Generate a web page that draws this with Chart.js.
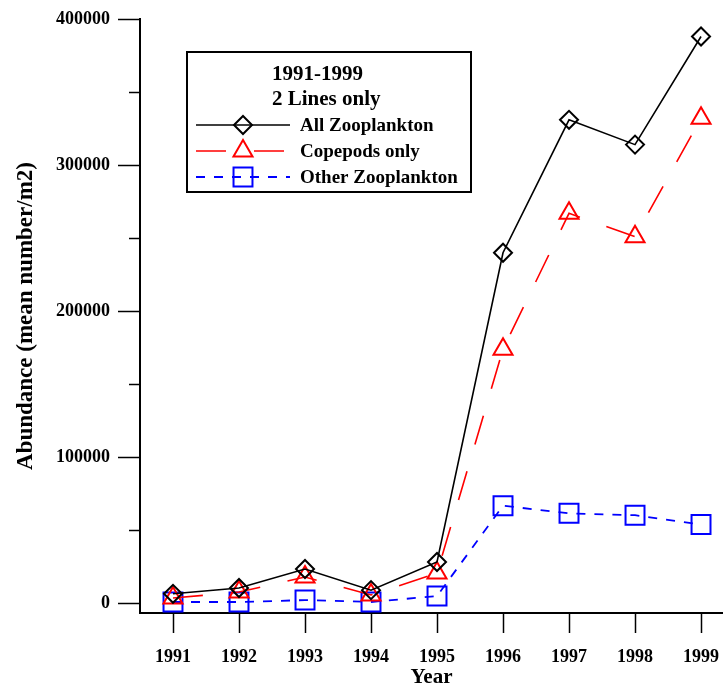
<!DOCTYPE html>
<html><head><meta charset="utf-8">
<script src="https://cdn.jsdelivr.net/npm/chart.js@4/dist/chart.umd.min.js"></script>
<style>html,body{margin:0;padding:0;background:#fff}#wrap{width:723px;height:690px;position:relative}</style>
</head><body><div id="wrap"><canvas id="c" width="723" height="690"></canvas></div>
<script>
const years = [1991, 1992, 1993, 1994, 1995, 1996, 1997, 1998, 1999];
const allZoo = [6500, 10500, 23500, 9000, 28300, 240000, 331000, 314000, 388000];
const copepods = [3600, 7700, 18000, 5700, 20700, 174000, 267000, 251000, 332000];
const otherZoo = [900, 900, 2200, 900, 5000, 66800, 61600, 60300, 54000];
const seriesLabels = ['All Zooplankton', 'Copepods only', 'Other Zooplankton'];
const legendTitle = ['1991-1999', '2 Lines only'];
const yTickValues = [0, 50000, 100000, 150000, 200000, 250000, 300000, 350000, 400000];
const yLabelValues = [0, 100000, 200000, 300000, 400000];
const xTitle = 'Year';
const yTitle = 'Abundance (mean number/m2)';

const FONT = '"Liberation Serif", "Times New Roman", serif';

function pts(vals) { return years.map((y, i) => ({ x: y, y: vals[i] })); }

function drawMarker(ctx, style, x, y, r) {
  ctx.beginPath();
  if (style === 'rectRot') {
    ctx.moveTo(x - r, y); ctx.lineTo(x, y - r); ctx.lineTo(x + r, y); ctx.lineTo(x, y + r); ctx.closePath();
  } else if (style === 'triangle') {
    for (let k = 0; k < 3; k++) {
      const a = k * 2 * Math.PI / 3;
      const px = x + Math.sin(a) * r, py = y - Math.cos(a) * r;
      if (k === 0) ctx.moveTo(px, py); else ctx.lineTo(px, py);
    }
    ctx.closePath();
  } else {
    const s = Math.SQRT1_2 * r;
    ctx.rect(x - s, y - s, 2 * s, 2 * s);
  }
  ctx.stroke();
}

const legendPlugin = {
  id: 'boxLegend',
  afterDraw(chart) {
    const ctx = chart.ctx;
    ctx.save();
    ctx.strokeStyle = '#000'; ctx.lineWidth = 2; ctx.setLineDash([]);
    ctx.strokeRect(187, 52, 284, 140);
    ctx.fillStyle = '#000';
    ctx.textBaseline = 'middle'; ctx.textAlign = 'left';
    ctx.font = 'bold 21px ' + FONT;
    ctx.fillText(legendTitle[0], 272, 75);
    ctx.fillText(legendTitle[1], 272, 100);
    ctx.font = 'bold 19px ' + FONT;
    const rows = [125, 151, 177];
    chart.data.datasets.forEach((ds, i) => {
      const y = rows[i];
      ctx.strokeStyle = ds.borderColor; ctx.lineWidth = ds.borderWidth;
      ctx.setLineDash(ds.borderDash || []);
      ctx.beginPath(); ctx.moveTo(196, y); ctx.lineTo(290, y); ctx.stroke();
      ctx.setLineDash([]);
      ctx.lineWidth = ds.pointBorderWidth;
      drawMarker(ctx, ds.pointStyle, 243, y, ds.pointRadius);
      ctx.fillStyle = '#000';
      ctx.fillText(ds.label, 300, y + 1);
    });
    // minor ticks on y axis
    const ys = chart.scales.y;
    ctx.strokeStyle = '#000'; ctx.lineWidth = 1.5;
    yTickValues.forEach(v => {
      if (yLabelValues.includes(v)) return;
      const py = Math.round(ys.getPixelForValue(v)) + 0.5;
      ctx.beginPath(); ctx.moveTo(ys.right - 11, py); ctx.lineTo(ys.right, py); ctx.stroke();
    });
    ctx.restore();
  }
};

new Chart(document.getElementById('c'), {
  type: 'line',
  data: {
    datasets: [
      { label: seriesLabels[0], data: pts(allZoo), borderColor: '#000', borderWidth: 1.6,
        pointStyle: 'rectRot', pointRadius: 9, pointBorderWidth: 2, pointBorderColor: '#000',
        pointBackgroundColor: 'rgba(0,0,0,0)', backgroundColor: 'rgba(0,0,0,0)', tension: 0, clip: false },
      { label: seriesLabels[1], data: pts(copepods), borderColor: '#ff0000', borderWidth: 1.6, borderDash: [30, 28],
        pointStyle: 'triangle', pointRadius: 11, pointBorderWidth: 2, pointBorderColor: '#ff0000',
        pointBackgroundColor: 'rgba(0,0,0,0)', backgroundColor: 'rgba(0,0,0,0)', tension: 0, clip: false },
      { label: seriesLabels[2], data: pts(otherZoo), borderColor: '#0000ff', borderWidth: 1.8, borderDash: [9, 9],
        pointStyle: 'rect', pointRadius: 13.4, pointBorderWidth: 2, pointBorderColor: '#0000ff',
        pointBackgroundColor: 'rgba(0,0,0,0)', backgroundColor: 'rgba(0,0,0,0)', tension: 0, clip: false }
    ]
  },
  options: {
    responsive: false, animation: false, devicePixelRatio: 1,
    layout: { autoPadding: false, padding: { top: 19, right: 0, left: 0, bottom: 0 } },
    plugins: { legend: { display: false }, tooltip: { enabled: false } },
    scales: {
      x: {
        type: 'linear', min: 1990.5, max: 1999.333,
        afterBuildTicks: s => { s.ticks = years.map(v => ({ value: v })); },
        afterFit: s => { s.height = 77; s.paddingLeft = 0; s.paddingRight = 0; },
        border: { display: true, color: '#000', width: 2 },
        grid: { display: true, drawOnChartArea: false, drawTicks: true, tickLength: 20, tickColor: '#000', tickWidth: 1.5 },
        ticks: { color: '#000', padding: 14, font: { family: FONT, size: 18, weight: 'bold' }, callback: v => String(v), maxRotation: 0, autoSkip: false },
        title: { display: true, text: xTitle, color: '#000', font: { family: FONT, size: 21, weight: 'bold' }, padding: { top: 0, bottom: 0 } }
      },
      y: {
        type: 'linear', min: -6640, max: 400000,
        afterBuildTicks: s => { s.ticks = yLabelValues.map(v => ({ value: v })); },
        afterFit: s => { s.width = 140; s.paddingTop = 0; s.paddingBottom = 0; },
        border: { display: true, color: '#000', width: 2 },
        grid: { display: true, drawOnChartArea: false, drawTicks: true, tickLength: 22, tickColor: '#000', tickWidth: 1.5 },
        ticks: { color: '#000', padding: 8, font: { family: FONT, size: 18, weight: 'bold' }, callback: v => String(v), autoSkip: false },
        title: { display: true, text: yTitle, color: '#000', font: { family: FONT, size: 23, weight: 'bold' }, padding: { top: 12, bottom: 0 } }
      }
    }
  },
  plugins: [legendPlugin]
});
</script></body></html>
